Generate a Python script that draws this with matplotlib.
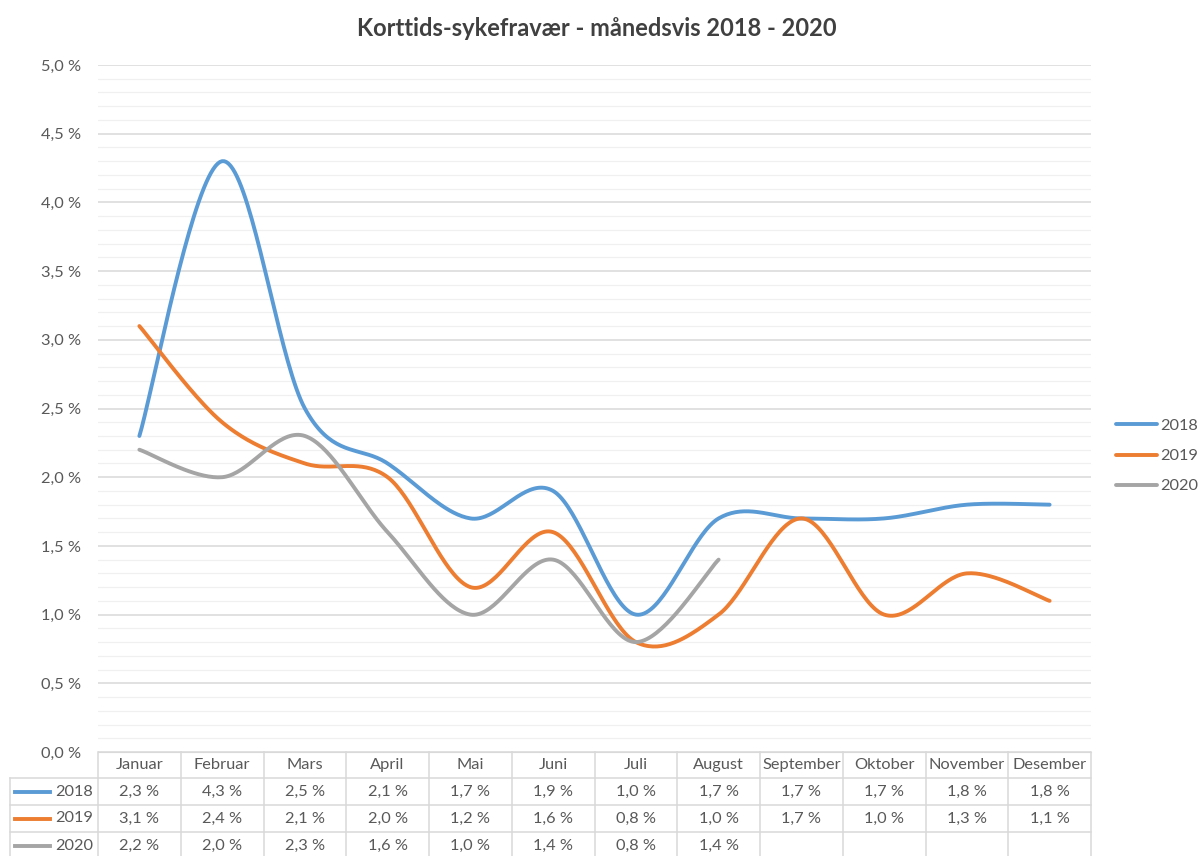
import numpy as np
import matplotlib.pyplot as plt
from matplotlib.transforms import blended_transform_factory

plt.rcParams['font.family'] = ['Lato', 'DejaVu Sans']

months = ['Januar', 'Februar', 'Mars', 'April', 'Mai', 'Juni', 'Juli',
          'August', 'September', 'Oktober', 'November', 'Desember']
years = ['2018', '2019', '2020']
v2018 = [2.3, 4.3, 2.5, 2.1, 1.7, 1.9, 1.0, 1.7, 1.7, 1.7, 1.8, 1.8]
v2019 = [3.1, 2.4, 2.1, 2.0, 1.2, 1.6, 0.8, 1.0, 1.7, 1.0, 1.3, 1.1]
v2020 = [2.2, 2.0, 2.3, 1.6, 1.0, 1.4, 0.8, 1.4]
series = [v2018, v2019, v2020]
colors = ['#5B9BD5', '#ED7D31', '#A5A5A5']

W, H = 1200, 856
TXT = '#595959'
GRID = '#D9D9D9'
FS = 11.8


def smooth(y, n=40):
    # Excel-style smoothing: cubic Bezier with Catmull-Rom control points
    x = np.arange(len(y), dtype=float)
    y = np.asarray(y, dtype=float)
    p = np.column_stack([x, y])
    p = np.vstack([p[0], p, p[-1]])
    t = np.linspace(0, 1, n)[:, None]
    out = []
    for i in range(1, len(p) - 2):
        p0, p3 = p[i], p[i + 1]
        c1 = p0 + (p[i + 1] - p[i - 1]) / 6
        c2 = p3 - (p[i + 2] - p[i]) / 6
        seg = ((1 - t) ** 3) * p0 + 3 * ((1 - t) ** 2) * t * c1 + 3 * (1 - t) * t ** 2 * c2 + t ** 3 * p3
        out.append(seg if i == 1 else seg[1:])
    out = np.vstack(out)
    return out[:, 0], out[:, 1]


def pct(v):
    return f'{v:.1f} %'.replace('.', ',')


def fy(py):
    return 1 - py / H


fig = plt.figure(figsize=(W / 100, H / 100), dpi=100)
ax = fig.add_axes([98 / W, fy(752), (1091 - 98) / W, (752 - 65) / H])

for vals, c, yr in zip(series, colors, years):
    xs, ys = smooth(vals)
    ax.plot(xs, ys, color=c, lw=2.8, solid_capstyle='round', label=yr, zorder=3)

ax.set_xlim(-0.5, len(months) - 0.5)
ax.set_ylim(0, 5)
ax.set_yticks(np.arange(0, 5.01, 0.5))
ax.set_yticks(np.arange(0, 5.01, 0.1), minor=True)
ax.set_yticklabels([pct(v) for v in np.arange(0, 5.01, 0.5)], color=TXT, fontsize=FS)
ax.set_xticks([])
ax.tick_params(axis='y', which='both', length=0, pad=12)
ax.grid(axis='y', which='major', color=GRID, lw=1.1)
ax.grid(axis='y', which='minor', color='#F0F0F0', lw=0.9)
ax.set_axisbelow(True)
for s in ['left', 'right', 'top']:
    ax.spines[s].set_visible(False)
ax.spines['bottom'].set_color(GRID)

fig.text(597 / W, fy(28), 'Korttids-sykefravær - månedsvis 2018 - 2020',
         ha='center', va='center', fontsize=17, fontweight='bold', color='#404040')

# legend on the right
leg = ax.legend(loc='center left', bbox_to_anchor=(1116 / W, fy(456)),
                bbox_transform=fig.transFigure, borderaxespad=0, borderpad=0,
                frameon=False, fontsize=FS, handlelength=2.5, labelspacing=0.95,
                handletextpad=0.2)
for t in leg.get_texts():
    t.set_color(TXT)

# data table under the chart
tr = blended_transform_factory(ax.transData, fig.transFigure)
rows = [752, 778, 805, 832, 860]
lc = dict(color=GRID, lw=1.1, clip_on=False, transform=tr)
left = -0.5 - 88 / 82.75
for yb in rows[1:4]:
    ax.plot([left, len(months) - 0.5], [fy(yb), fy(yb)], **lc)
for i in range(len(months) + 1):
    ax.plot([i - 0.5, i - 0.5], [fy(752), fy(860)], **lc)
ax.plot([left, left], [fy(778), fy(860)], **lc)

for i, m in enumerate(months):
    ax.text(i, fy(765), m, transform=tr, ha='center', va='center', fontsize=FS, color=TXT)
for r, (vals, c, yr) in enumerate(zip(series, colors, years)):
    yc = fy((rows[r + 1] + rows[r + 2]) / 2)
    for i, v in enumerate(vals):
        ax.text(i, yc, pct(v), transform=tr, ha='center', va='center', fontsize=FS, color=TXT)
    ax.text(-0.56, yc, yr, transform=tr, ha='right', va='center', fontsize=FS, color=TXT)
    fig.add_artist(plt.Line2D([15 / W, 50 / W], [yc, yc], color=c, lw=2.8,
                              transform=fig.transFigure))

fig.savefig('out.png', dpi=100, facecolor='white')
